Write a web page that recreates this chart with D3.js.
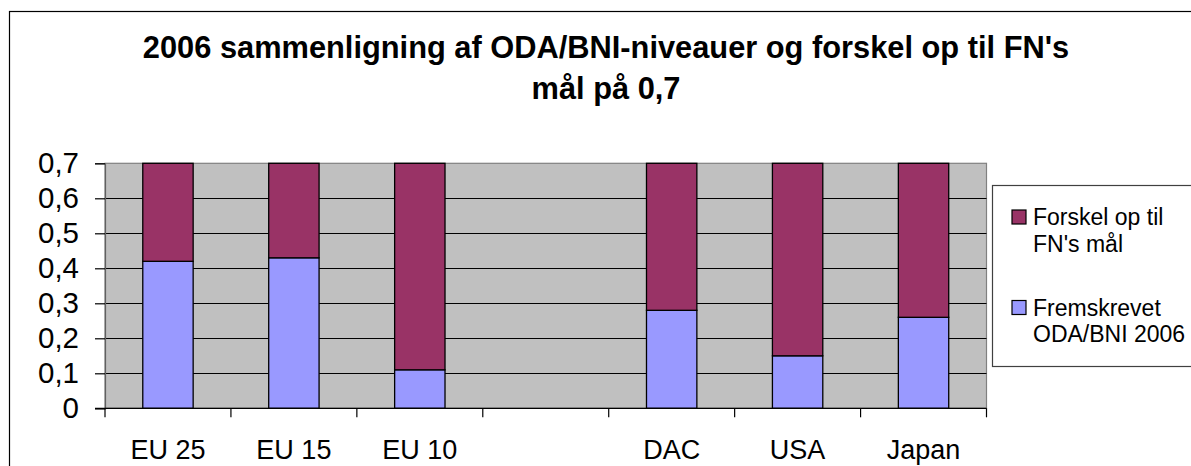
<!DOCTYPE html>
<html>
<head>
<meta charset="utf-8">
<script src="https://cdn.jsdelivr.net/npm/d3@7"></script>
<style>
  body { margin: 0; background: #fff; }
  svg { display: block; font-family: Arial, "Liberation Sans", sans-serif; }
</style>
</head>
<body>
<div id="chart"></div>
<script>
// data
const categories = ["EU 25", "EU 15", "EU 10", "", "DAC", "USA", "Japan"];
const odaBni2006 = [0.42, 0.43, 0.11, null, 0.28, 0.15, 0.26];
const gapToTarget = [0.28, 0.27, 0.59, null, 0.42, 0.55, 0.44];
const yTicks = [0, 0.1, 0.2, 0.3, 0.4, 0.5, 0.6, 0.7];
const seriesNames = ["Fremskrevet ODA/BNI 2006", "Forskel op til FN's mål"];
const titleLines = ["2006 sammenligning af ODA/BNI-niveauer og forskel op til FN's", "mål på 0,7"];

var width = 1191, height = 466;
var plot = {left: 105, right: 986.5, top: 163.3, bottom: 408.3};
var colors = {oda: "#9999FF", gap: "#993366", bg: "#C0C0C0"};

let svg = d3.select("#chart").append("svg")
    .attr("width", width)
    .attr("height", height);

// outer chart border (runs off the right and bottom edges)
svg.append("rect")
    .attr("x", 9.5).attr("y", 11.5)
    .attr("width", width + 20).attr("height", height + 20)
    .attr("fill", "#fff")
    .attr("stroke", "#000")
    .attr("stroke-width", 1.2);

// title
svg.append("g").selectAll("text")
    .data(titleLines)
    .enter().append("text")
    .attr("x", 606)
    .attr("y", (d, i) => i === 0 ? 58 : 99)
    .attr("text-anchor", "middle")
    .style("font-size", "30.8px")
    .style("font-weight", "bold")
    .text(d => d);

var x = d3.scaleBand()
    .domain(d3.range(categories.length))
    .range([plot.left, plot.right])
    .paddingInner(0.6)
    .paddingOuter(0.3);

var y = d3.scaleLinear()
    .domain([0, 0.7])
    .range([plot.bottom, plot.top]);

// plot background
svg.append("rect")
    .attr("x", plot.left).attr("y", plot.top)
    .attr("width", plot.right - plot.left)
    .attr("height", plot.bottom - plot.top)
    .attr("fill", colors.bg)
    .attr("stroke", "#808080")
    .attr("stroke-width", 1.2);

// gridlines
svg.append("g")
    .selectAll("line")
    .data(yTicks.filter(t => t > 0 && t < 0.7))
    .enter().append("line")
    .attr("x1", plot.left).attr("x2", plot.right)
    .attr("y1", d => Math.round(y(d)) + 0.5)
    .attr("y2", d => Math.round(y(d)) + 0.5)
    .attr("stroke", "#000")
    .attr("stroke-width", 1);

// stacked bars
var rows = categories.map((c, i) => ({i: i, oda: odaBni2006[i], gap: gapToTarget[i]}))
    .filter(d => d.oda !== null);
var stack = d3.stack().keys(["oda", "gap"]);
var layers = stack(rows);

svg.append("g")
    .selectAll("g")
    .data(layers)
    .enter().append("g")
    .attr("fill", d => colors[d.key])
    .selectAll("rect")
    .data(d => d)
    .enter().append("rect")
    .attr("x", d => x(d.data.i))
    .attr("width", x.bandwidth())
    .attr("y", d => y(d[1]))
    .attr("height", d => y(d[0]) - y(d[1]))
    .attr("stroke", "#000")
    .attr("stroke-width", 1.3);

// y axis
var yAxis = d3.axisLeft(y)
    .tickValues(yTicks)
    .tickSize(10)
    .tickPadding(16)
    .tickFormat(d => d === 0 ? "0" : d3.format(".1f")(d).replace(".", ","));

var gy = svg.append("g")
    .attr("transform", "translate(" + plot.left + ",0)")
    .call(yAxis);
gy.select(".domain").attr("stroke", "#606060").attr("stroke-width", 1.2);
gy.selectAll(".tick line").attr("stroke", "#000").attr("stroke-width", 1.2);
gy.selectAll("text")
    .attr("fill", "#000")
    .style("font-size", "29.5px")
    .style("font-family", "Arial, 'Liberation Sans', sans-serif");

// x axis: line, ticks between categories, labels
var gx = svg.append("g");
gx.append("line")
    .attr("x1", plot.left - 10).attr("x2", plot.right)
    .attr("y1", plot.bottom).attr("y2", plot.bottom)
    .attr("stroke", "#000")
    .attr("stroke-width", 1.2);

var bounds = d3.range(categories.length + 1).map(i => plot.left + i * x.step());
gx.selectAll(".xtick")
    .data(bounds)
    .enter().append("line")
    .attr("class", "xtick")
    .attr("x1", d => d).attr("x2", d => d)
    .attr("y1", plot.bottom).attr("y2", plot.bottom + 9)
    .attr("stroke", "#000")
    .attr("stroke-width", 1.2);

gx.selectAll(".xlabel")
    .data(categories)
    .enter().append("text")
    .attr("class", "xlabel")
    .attr("x", (d, i) => x(i) + x.bandwidth() / 2)
    .attr("y", 459)
    .attr("text-anchor", "middle")
    .style("font-size", "27px")
    .text(d => d);

// legend
var legend = svg.append("g");
legend.append("rect")
    .attr("x", 992.5).attr("y", 185.5)
    .attr("width", 230).attr("height", 181)
    .attr("fill", "#fff")
    .attr("stroke", "#404040")
    .attr("stroke-width", 1.2);

var legendItems = [
    {color: colors.gap, lines: ["Forskel op til", "FN's mål"], top: 210},
    {color: colors.oda, lines: ["Fremskrevet", "ODA/BNI 2006"], top: 300.5}
];

var item = legend.selectAll(".item")
    .data(legendItems)
    .enter().append("g")
    .attr("class", "item");

item.append("rect")
    .attr("x", 1012).attr("y", d => d.top)
    .attr("width", 14).attr("height", 14)
    .attr("fill", d => d.color)
    .attr("stroke", "#000")
    .attr("stroke-width", 1.2);

item.append("text")
    .style("font-size", "23px")
    .selectAll("tspan")
    .data(d => d.lines.map((l, j) => ({text: l, y: d.top + 15 + j * 26.7})))
    .enter().append("tspan")
    .attr("x", 1033)
    .attr("y", d => d.y)
    .text(d => d.text);
</script>
</body>
</html>
